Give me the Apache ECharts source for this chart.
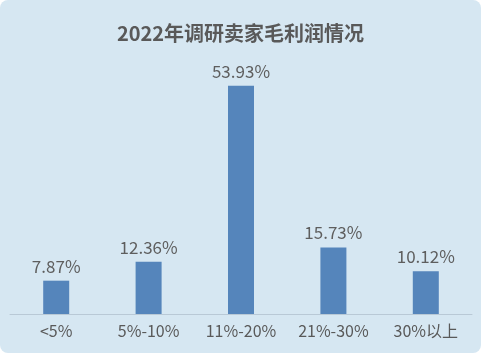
<!DOCTYPE html>
<html><head><meta charset="utf-8">
<script src="https://cdn.jsdelivr.net/npm/echarts@6/dist/echarts.min.js"></script>
<style>
html,body{margin:0;padding:0;background:#ffffff;}
#c{width:481px;height:353px;background:#d6e7f2;border-radius:8px;overflow:hidden;}
</style></head>
<body><div id="c"></div>
<script>
const titleText = '2022年调研卖家毛利润情况';
const categories = ['<5%', '5%-10%', '11%-20%', '21%-30%', '30%以上'];
const values = [7.87, 12.36, 53.93, 15.73, 10.12];

const chart = echarts.init(document.getElementById('c'), null, {renderer: 'canvas'});
const font = '"Noto Sans CJK SC", "Noto Sans", sans-serif';
chart.setOption({
  backgroundColor: 'transparent',
  animation: false,
  title: {
    text: titleText, left: 'center', top: 18,
    textStyle: {fontFamily: font, fontSize: 20, fontWeight: 'bold', color: '#595959'}
  },
  grid: {left: 10, right: 9, top: 60, bottom: 39, containLabel: false},
  xAxis: {
    type: 'category', data: categories,
    axisLine: {lineStyle: {color: '#b9c9d6', width: 1}},
    axisTick: {show: false},
    axisLabel: {fontFamily: font, fontSize: 16, color: '#595959', margin: 9}
  },
  yAxis: {
    type: 'value', min: 0, max: 60,
    show: false, splitLine: {show: false}
  },
  series: [{
    type: 'bar', data: values, barWidth: 26,
    itemStyle: {color: '#5585bb'},
    label: {
      show: true, position: 'top', distance: 6,
      formatter: p => p.value.toFixed(2) + '%',
      fontFamily: font, fontSize: 17, color: '#5e5e5e'
    }
  }]
});
</script></body></html>
